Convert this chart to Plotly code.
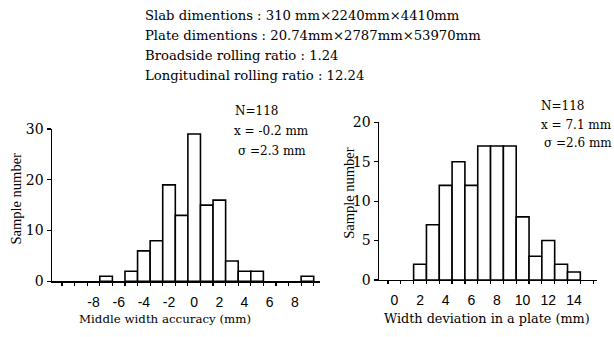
import plotly.graph_objects as go

# ---------------- data ----------------
left_bins = [-7, -5, -4, -3, -2, -1, 0, 1, 2, 3, 4, 5, 9]
left_counts = [1, 2, 6, 8, 19, 13, 29, 15, 16, 4, 2, 2, 1]
left_xticks = [-8, -6, -4, -2, 0, 2, 4, 6, 8]
left_yticks = [0, 10, 20, 30]

right_bins = [2, 3, 4, 5, 6, 7, 8, 9, 10, 11, 12, 13, 14]
right_counts = [2, 7, 12, 15, 12, 17, 17, 17, 8, 3, 5, 2, 1]
right_xticks = [0, 2, 4, 6, 8, 10, 12, 14]
right_yticks = [0, 5, 10, 15, 20]

header_lines = [
    "Slab dimentions : 310 mm\u00d72240mm\u00d74410mm",
    "Plate dimentions : 20.74mm\u00d72787mm\u00d753970mm",
    "Broadside rolling ratio : 1.24",
    "Longitudinal rolling ratio : 12.24",
]
left_stats = ["N=118", "x = -0.2 mm", "\u03c3 =2.3 mm"]
right_stats = ["N=118", "x = 7.1 mm", "\u03c3 =2.6 mm"]
left_xtitle = "Middle width accuracy (mm)"
right_xtitle = "Width deviation in a plate (mm)"
ytitle = "Sample number"

W, H = 614, 337
SERIF = "DejaVu Serif"
TSERIF = "Liberation Serif"
SANS = "Liberation Sans"


def px(x):
    return x / W


def py(y):
    return (H - y) / H


fig = go.Figure()
bar_style = dict(marker=dict(color="white", line=dict(color="black", width=1.6)),
                 width=1.0, showlegend=False, hoverinfo="skip")
fig.add_trace(go.Bar(x=left_bins, y=left_counts, xaxis="x", yaxis="y", **bar_style))
fig.add_trace(go.Bar(x=right_bins, y=right_counts, xaxis="x2", yaxis="y2", **bar_style))

xcommon = dict(showline=True, linecolor="black", linewidth=1.5, showgrid=False,
               zeroline=False, ticks="", tickfont=dict(family=SANS, size=14, color="black"),
               ticklabelstandoff=7)
ycommon = dict(showline=True, linecolor="black", linewidth=1.5, showgrid=False,
               zeroline=False, ticks="outside", ticklen=4, tickwidth=1.2, tickcolor="black",
               ticklabelstandoff=0,
               tickfont=dict(family=SERIF, size=14, color="black"))

fig.update_layout(
    width=W, height=H,
    margin=dict(l=0, r=0, t=0, b=0),
    paper_bgcolor="white", plot_bgcolor="white",
    bargap=0,
    xaxis=dict(domain=[px(52), px(320)], range=[-11.3, 10.0], anchor="y",
               tickmode="array", tickvals=left_xticks,
               ticktext=[str(v) for v in left_xticks],
               minor=dict(tickmode="linear", tick0=0.5, dtick=1, ticks="outside",
                          ticklen=3, tickwidth=1.2, tickcolor="black"),
               **xcommon),
    yaxis=dict(domain=[py(287), py(127)], range=[0, 30], anchor="x",
               tickmode="array", tickvals=left_yticks, **ycommon),
    xaxis2=dict(domain=[px(379), px(597)], range=[-1.2, 15.8], anchor="y2",
                tickmode="array", tickvals=right_xticks,
                ticktext=[str(v) for v in right_xticks],
                minor=dict(tickmode="linear", tick0=0.5, dtick=1, ticks="outside",
                           ticklen=3, tickwidth=1.2, tickcolor="black"),
                **xcommon),
    yaxis2=dict(domain=[py(285.5), py(120)], range=[0, 20], anchor="x2",
                tickmode="array", tickvals=right_yticks, **ycommon),
)

annotations = []
for i, line in enumerate(header_lines):
    annotations.append(dict(text=line, x=px(143), y=py(8 + 21 * i), xref="paper", yref="paper",
                            xanchor="left", yanchor="middle", showarrow=False,
                            font=dict(family=SERIF, size=13.2, color="black")))
for i, (line, xx) in enumerate(zip(left_stats, [233, 232, 236])):
    annotations.append(dict(text=line, x=px(xx), y=py(108 + 21 * i), xref="paper", yref="paper",
                            xanchor="left", yanchor="middle", showarrow=False,
                            font=dict(family=SERIF, size=12, color="black")))
for i, (line, xx) in enumerate(zip(right_stats, [539, 539, 542])):
    annotations.append(dict(text=line, x=px(xx), y=py(103 + 19.5 * i), xref="paper", yref="paper",
                            xanchor="left", yanchor="middle", showarrow=False,
                            font=dict(family=SERIF, size=12, color="black")))
annotations.append(dict(text=left_xtitle, x=px(165), y=py(326), xref="paper", yref="paper",
                        xanchor="center", yanchor="middle", showarrow=False,
                        font=dict(family=SERIF, size=11.8, color="black")))
annotations.append(dict(text=right_xtitle, x=px(487), y=py(326), xref="paper", yref="paper",
                        xanchor="center", yanchor="middle", showarrow=False,
                        font=dict(family=SERIF, size=12.8, color="black")))
annotations.append(dict(text=ytitle, x=px(16), y=py(200), xref="paper", yref="paper",
                        xanchor="center", yanchor="middle", showarrow=False, textangle=-90,
                        font=dict(family=TSERIF, size=14.5, color="black")))
annotations.append(dict(text=ytitle, x=px(349), y=py(194), xref="paper", yref="paper",
                        xanchor="center", yanchor="middle", showarrow=False, textangle=-90,
                        font=dict(family=TSERIF, size=14.5, color="black")))
fig.update_layout(annotations=annotations)

fig.write_html("out.html", config={"displayModeBar": False, "staticPlot": True},
               post_script="document.body.style.margin='0';document.body.style.overflow='hidden';")
